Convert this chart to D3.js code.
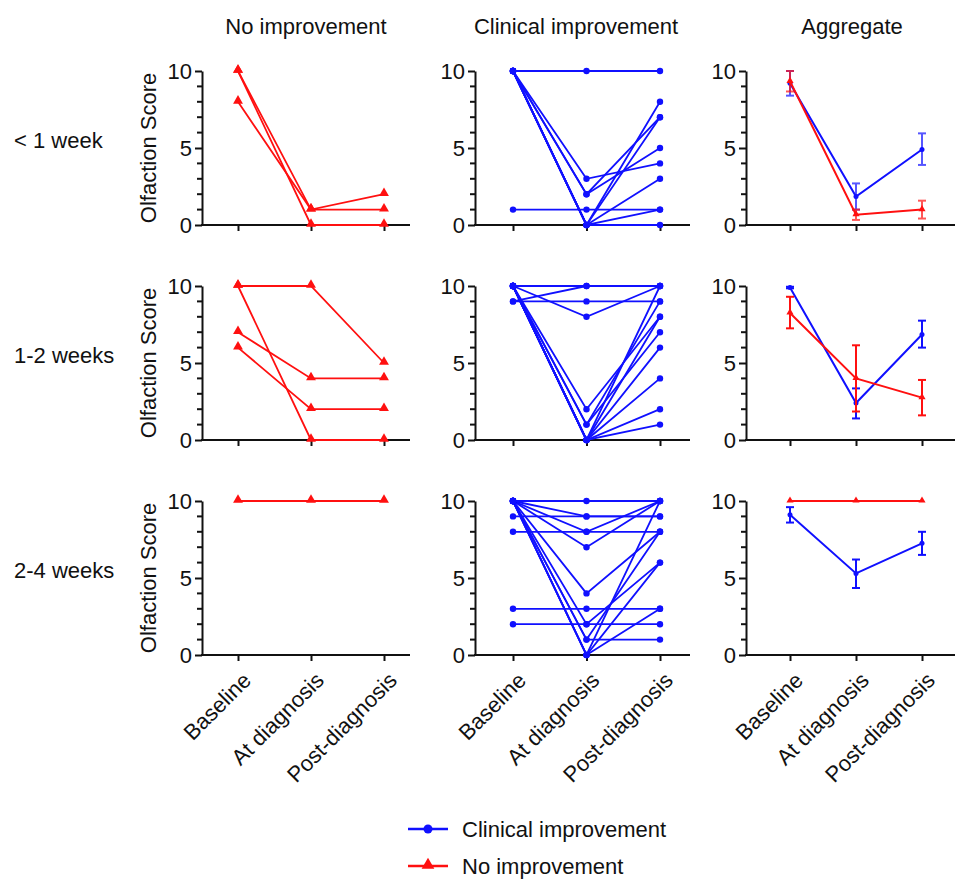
<!DOCTYPE html>
<html>
<head>
<meta charset="utf-8">
<script src="https://cdn.jsdelivr.net/npm/d3@7"></script>
<style>
  body { margin: 0; background: #fff; }
  text { font-family: "Liberation Sans", Arial, sans-serif; fill: #111; }
</style>
</head>
<body>
<div id="chart"></div>
<script>
// categories
const timepoints = ["Baseline", "At diagnosis", "Post-diagnosis"];
const durations = ["< 1 week", "1-2 weeks", "2-4 weeks"];
const groups = ["No improvement", "Clinical improvement", "Aggregate"];
const yTicks = [0, 5, 10];

// individual patients, no improvement (one row per patient)
const noImpLt1 = [[10, 1, 2], [10, 0, 0], [8, 1, 1]];
const noImp1to2 = [[10, 10, 5], [10, 0, 0], [7, 4, 4], [6, 2, 2]];
const noImp2to4 = [[10, 10, 10]];

// individual patients, clinical improvement
const clinLt1 = [[10, 10, 10], [1, 1, 1], [10, 3, 4], [10, 2, 7], [10, 2, 5],
  [10, 0, 8], [10, 0, 7], [10, 0, 3], [10, 0, 1], [10, 0, 0]];
const clin1to2 = [[9, 10, 10], [9, 9, 9], [10, 8, 10], [10, 10, 10], [10, 2, 8],
  [10, 1, 9], [10, 1, 7], [10, 0, 10], [10, 0, 8], [10, 0, 6], [10, 0, 4],
  [10, 0, 2], [10, 0, 1]];
const clin2to4 = [[10, 10, 10], [9, 9, 9], [8, 8, 8], [3, 3, 3], [2, 2, 2],
  [10, 8, 10], [10, 7, 10], [10, 4, 8], [10, 2, 6], [10, 1, 8], [10, 1, 1],
  [10, 0, 10], [10, 0, 6], [10, 0, 3], [10, 9, 9]];

// aggregate means with error bar limits (per row: <1w, 1-2w, 2-4w)
const aggClinMean = [[9.2, 1.85, 4.9], [9.9, 2.4, 6.85], [9.1, 5.3, 7.25]];
const aggClinLo = [[8.4, 1.0, 3.9], [9.85, 1.4, 6.0], [8.6, 4.35, 6.5]];
const aggClinHi = [[10, 2.7, 5.95], [9.95, 3.35, 7.75], [9.6, 6.2, 8.0]];
const aggNoMean = [[9.33, 0.67, 1.0], [8.25, 4.0, 2.75], [10, 10, 10]];
const aggNoLo = [[8.67, 0.33, 0.42], [7.25, 1.85, 1.6], [10, 10, 10]];
const aggNoHi = [[10, 1.0, 1.58], [9.3, 6.15, 3.9], [10, 10, 10]];

const noImpRows = [noImpLt1, noImp1to2, noImp2to4];
const clinRows = [clinLt1, clin1to2, clin2to4];

const BLUE = "#1010ff", RED = "#ff1010";

// Layout
const W = 956, H = 880;
const cols = [
  { axis: 202, first: 238, last: 384, end: 410 },
  { axis: 475, first: 513, last: 660, end: 690 },
  { axis: 746, first: 790, last: 922, end: 955 }
];
const rows = [
  { top: 71, bottom: 225 },
  { top: 286, bottom: 440 },
  { top: 501, bottom: 655 }
];

const svg = d3.select("#chart").append("svg")
  .attr("width", W).attr("height", H);

const triangle = d3.symbol().type(d3.symbolTriangle);

function drawAxes(g, x, y, c, r, showLabels) {
  // y axis
  const yAx = g.append("g").attr("transform", `translate(${c.axis},0)`)
    .call(d3.axisLeft(y).tickValues(yTicks).tickSize(7).tickSizeOuter(0).tickPadding(3));
  yAx.selectAll(".tick text").style("font-size", "22px")
    .style("font-family", "Liberation Sans, Arial, sans-serif").attr("fill", "#111");
  yAx.select(".domain").attr("stroke", "#111").attr("stroke-width", 2);
  yAx.selectAll(".tick line").attr("stroke", "#111").attr("stroke-width", 2);
  // minor ticks
  yAx.selectAll("line.minor").data(d3.range(1, 10).filter(v => v !== 5))
    .enter().append("line").attr("class", "minor")
    .attr("x1", -5).attr("x2", 0)
    .attr("y1", d => y(d)).attr("y2", d => y(d))
    .attr("stroke", "#111").attr("stroke-width", 2);

  // x axis
  const xAx = g.append("g").attr("transform", `translate(0,${r.bottom})`)
    .call(d3.axisBottom(x).tickSize(6).tickSizeOuter(0).tickFormat(showLabels ? null : ""));
  xAx.select(".domain").remove();
  xAx.append("line").attr("x1", c.axis - 1).attr("x2", c.end)
    .attr("stroke", "#111").attr("stroke-width", 2);
  xAx.selectAll(".tick line").attr("stroke", "#111").attr("stroke-width", 2);
  if (showLabels) {
    xAx.selectAll(".tick text")
      .style("font-size", "22px")
      .style("font-family", "Liberation Sans, Arial, sans-serif")
      .attr("fill", "#111")
      .attr("text-anchor", "end")
      .attr("dy", "0.35em")
      .attr("transform", "translate(2,15) rotate(-45)");
  }
}

rows.forEach((r, ri) => {
  const y = d3.scaleLinear().domain([0, 10]).range([r.bottom, r.top]);

  // row label and y title
  svg.append("text").attr("x", 14).attr("y", (r.top + r.bottom) / 2 - 8)
    .attr("dy", "0.35em").style("font-size", "22px").text(durations[ri]);
  svg.append("text")
    .attr("transform", `translate(156,${(r.top + r.bottom) / 2}) rotate(-90)`)
    .attr("text-anchor", "middle").style("font-size", "22px")
    .text("Olfaction Score");

  cols.forEach((c, ci) => {
    const x = d3.scalePoint().domain(timepoints).range([c.first, c.last]);
    const g = svg.append("g");
    drawAxes(g, x, y, c, r, ri === 2);

    const line = d3.line().x((d, i) => x(timepoints[i])).y(d => y(d));

    if (ci < 2) {
      const data = ci === 0 ? noImpRows[ri] : clinRows[ri];
      const col = ci === 0 ? RED : BLUE;
      g.selectAll("path.subj").data(data).enter().append("path")
        .attr("class", "subj")
        .attr("d", line).attr("fill", "none")
        .attr("stroke", col).attr("stroke-width", 1.8);
      data.forEach(s => {
        s.forEach((v, i) => {
          if (ci === 0) {
            g.append("path").attr("d", triangle.size(42)())
              .attr("transform", `translate(${x(timepoints[i])},${y(v) - 1})`)
              .attr("fill", col);
          } else {
            g.append("circle").attr("cx", x(timepoints[i])).attr("cy", y(v))
              .attr("r", 3.2).attr("fill", col);
          }
        });
      });
    } else {
      const series = [
        { mean: aggClinMean[ri], lo: aggClinLo[ri], hi: aggClinHi[ri], col: BLUE, tri: false },
        { mean: aggNoMean[ri], lo: aggNoLo[ri], hi: aggNoHi[ri], col: RED, tri: true }
      ];
      series.forEach(s => {
        const eb = g.append("g").attr("opacity", ri === 0 ? 0.7 : 1);
        s.mean.forEach((m, i) => {
          if (s.hi[i] - s.lo[i] < 0.05) return;
          const px = x(timepoints[i]);
          eb.append("line").attr("x1", px).attr("x2", px)
            .attr("y1", y(s.lo[i])).attr("y2", y(s.hi[i]))
            .attr("stroke", s.col).attr("stroke-width", 2);
          [s.lo[i], s.hi[i]].forEach(v => {
            eb.append("line").attr("x1", px - 4).attr("x2", px + 4)
              .attr("y1", y(v)).attr("y2", y(v))
              .attr("stroke", s.col).attr("stroke-width", 2);
          });
        });
        g.append("path").datum(s.mean).attr("d", line).attr("fill", "none")
          .attr("stroke", s.col).attr("stroke-width", 2);
        s.mean.forEach((m, i) => {
          if (s.tri) {
            g.append("path").attr("d", triangle.size(22)())
              .attr("transform", `translate(${x(timepoints[i])},${y(m) - 0.5})`)
              .attr("fill", s.col);
          } else {
            g.append("circle").attr("cx", x(timepoints[i])).attr("cy", y(m))
              .attr("r", 2.5).attr("fill", s.col);
          }
        });
      });
    }
  });
});

// column titles
const titleX = [306, 576, 852];
groups.forEach((t, i) => {
  svg.append("text").attr("x", titleX[i]).attr("y", 34)
    .attr("text-anchor", "middle").style("font-size", "22px").text(t);
});

// legend
const legend = [
  { label: "Clinical improvement", col: BLUE, tri: false, y: 829 },
  { label: "No improvement", col: RED, tri: true, y: 866 }
];
legend.forEach(d => {
  const lg = svg.append("g");
  lg.append("line").attr("x1", 408).attr("x2", 448).attr("y1", d.y).attr("y2", d.y)
    .attr("stroke", d.col).attr("stroke-width", 2.5);
  if (d.tri) {
    lg.append("path").attr("d", triangle.size(70)())
      .attr("transform", `translate(428,${d.y - 1})`).attr("fill", d.col);
  } else {
    lg.append("circle").attr("cx", 428).attr("cy", d.y).attr("r", 4.5).attr("fill", d.col);
  }
  lg.append("text").attr("x", 462).attr("y", d.y).attr("dy", "0.35em")
    .style("font-size", "22px").text(d.label);
});
</script>
</body>
</html>
